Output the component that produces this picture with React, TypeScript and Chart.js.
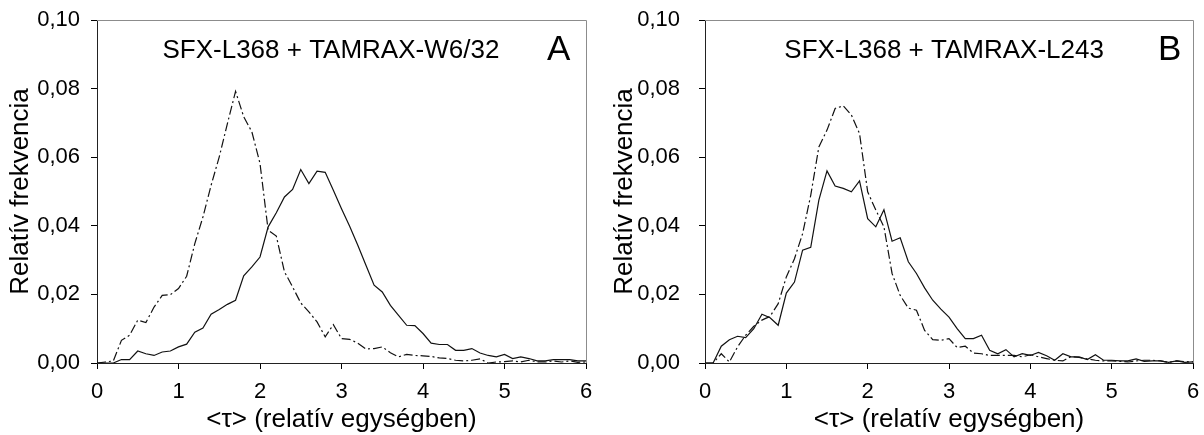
import React, { useEffect, useRef } from "react";
import { Chart, registerables } from "chart.js";

Chart.register(...registerables);

const FONT = '"Liberation Sans", Arial, Helvetica, sans-serif';

// x positions (<τ>, relative units)
const tau = [
  0, 0.1, 0.2, 0.3, 0.4, 0.5, 0.6, 0.7, 0.8, 0.9,
  1, 1.1, 1.2, 1.3, 1.4, 1.5, 1.6, 1.7, 1.8, 1.9,
  2, 2.1, 2.2, 2.3, 2.4, 2.5, 2.6, 2.7, 2.8, 2.9,
  3, 3.1, 3.2, 3.3, 3.4, 3.5, 3.6, 3.7, 3.8, 3.9,
  4, 4.1, 4.2, 4.3, 4.4, 4.5, 4.6, 4.7, 4.8, 4.9,
  5, 5.1, 5.2, 5.3, 5.4, 5.5, 5.6, 5.7, 5.8, 5.9,
  6,
];

// Panel A: SFX-L368 + TAMRAX-W6/32
const solidA = [
  0, 0, 0, 0.001, 0.001, 0.0035, 0.0027, 0.0022, 0.0032, 0.0035,
  0.0047, 0.0055, 0.009, 0.0102, 0.0142, 0.0156, 0.0171, 0.0183, 0.0254, 0.028,
  0.0309, 0.0397, 0.0438, 0.0484, 0.0506, 0.0564, 0.0523, 0.0559, 0.0556, 0.0504,
  0.045, 0.0399, 0.0343, 0.0285, 0.0227, 0.0207, 0.0168, 0.0139, 0.011, 0.0109,
  0.0086, 0.0058, 0.0054, 0.0054, 0.0037, 0.0037, 0.0042, 0.0029, 0.0022, 0.0018,
  0.0025, 0.0013, 0.0018, 0.0013, 0.0006, 0.0006, 0.001, 0.001, 0.001, 0.0006,
  0.0006,
];
const dashA = [
  0, 0.0003, 0.0006, 0.0066, 0.0081, 0.0125, 0.0118, 0.0163, 0.0197, 0.0199,
  0.0217, 0.0253, 0.0348, 0.0426, 0.0518, 0.0601, 0.0698, 0.0792, 0.0718, 0.0674,
  0.0582, 0.0387, 0.037, 0.0266, 0.0222, 0.0175, 0.0149, 0.012, 0.0076, 0.0112,
  0.0071, 0.0069, 0.0058, 0.0041, 0.0042, 0.0047, 0.003, 0.0018, 0.0025, 0.0022,
  0.0021, 0.0019, 0.0015, 0.0013, 0.0008, 0.0006, 0.0008, 0.0012, 0, 0.0003,
  0.0004, 0.0006, 0.0003, 0.0008, 0.0003, 0.0003, 0.0006, 0.0003, 0.0006, 0.0002,
  0.0003,
];

// Panel B: SFX-L368 + TAMRAX-L243
const solidB = [
  0, 0, 0.0049, 0.0068, 0.0078, 0.0074, 0.01, 0.0142, 0.0132, 0.011,
  0.0204, 0.0236, 0.0329, 0.0337, 0.0475, 0.056, 0.0516, 0.0509, 0.0499, 0.0531,
  0.0421, 0.0397, 0.0447, 0.0355, 0.0365, 0.0295, 0.0261, 0.0219, 0.0183, 0.0157,
  0.0134, 0.01, 0.0071, 0.0071, 0.0081, 0.0037, 0.0027, 0.0039, 0.0018, 0.0027,
  0.0022, 0.0031, 0.0021, 0.0008, 0.0027, 0.0018, 0.0018, 0.001, 0.0024, 0.0008,
  0.0008, 0.0006, 0.0006, 0.0012, 0.0005, 0.0006, 0.0006, 0.0002, 0.0006, 0.0002,
  0.0003,
];
const dashB = [
  0, 0, 0.0027, 0.0003, 0.0047, 0.0081, 0.0107, 0.0125, 0.0136, 0.0173,
  0.0251, 0.0304, 0.0377, 0.0489, 0.063, 0.0679, 0.0742, 0.075, 0.0723, 0.0669,
  0.0499, 0.0446, 0.0397, 0.0261, 0.0197, 0.016, 0.0154, 0.0095, 0.0068, 0.0066,
  0.0071, 0.0045, 0.0049, 0.0029, 0.0027, 0.0022, 0.0022, 0.0022, 0.0022, 0.0018,
  0.0024, 0.0018, 0.0013, 0.0008, 0.0006, 0.0019, 0.0016, 0.0012, 0.0008, 0.0006,
  0.0006, 0.0005, 0.0003, 0.0006, 0.0008, 0.0008, 0.0006, 0.0002, 0.0006, 0.0004,
  0.0003,
];

const yTicks = [0, 0.02, 0.04, 0.06, 0.08, 0.1];
const xTitle = "<τ> (relatív egységben)";
const yTitle = "Relatív frekvencia";

type PanelProps = {
  solid: number[];
  dash: number[];
  caption: string;
  letter: string;
  left: number;
  width: number;
  yAxisWidth: number;
  yTickPad: number;
  yTitlePad: number;
  rightPad: number;
  captionX: number;
  letterX: number;
};

function Panel(p: PanelProps) {
  const ref = useRef<HTMLCanvasElement | null>(null);

  useEffect(() => {
    const canvas = ref.current;
    if (!canvas) return;

    const framePlugin = {
      id: "frameAndText",
      afterDraw(chart: any) {
        const { ctx, chartArea, scales } = chart;
        const { left, right, top, bottom } = chartArea;
        ctx.save();
        ctx.strokeStyle = "#8c8c8c";
        ctx.lineWidth = 1;
        ctx.beginPath();
        ctx.moveTo(Math.round(left), Math.round(top) + 0.5);
        ctx.lineTo(Math.round(right) + 0.5, Math.round(top) + 0.5);
        ctx.lineTo(Math.round(right) + 0.5, Math.round(bottom));
        ctx.stroke();

        const xs = scales.x;
        const ys = scales.y;
        ctx.fillStyle = "#000";
        ctx.textBaseline = "alphabetic";
        ctx.font = `26px ${FONT}`;
        ctx.textAlign = "center";
        ctx.fillText(p.caption, xs.getPixelForValue(p.captionX), ys.getPixelForValue(0.0889));
        ctx.font = `35px ${FONT}`;
        ctx.textAlign = "left";
        ctx.fillText(p.letter, xs.getPixelForValue(p.letterX), ys.getPixelForValue(0.0883));
        ctx.restore();
      },
    };

    const chart = new Chart(canvas, {
      type: "line",
      data: {
        datasets: [
          {
            label: "solid",
            data: tau.map((t, i) => ({ x: t, y: p.solid[i] })),
            borderColor: "#111",
            borderWidth: 1.2,
            pointRadius: 0,
            tension: 0,
            fill: false,
          },
          {
            label: "dash-dot",
            data: tau.map((t, i) => ({ x: t, y: p.dash[i] })),
            borderColor: "#111",
            borderWidth: 1.2,
            borderDash: [9, 3, 2, 3],
            pointRadius: 0,
            tension: 0,
            fill: false,
          },
        ],
      },
      options: {
        animation: false,
        responsive: false,
        devicePixelRatio: 1,
        layout: { padding: { left: 0, right: p.rightPad, top: 20, bottom: 0 } },
        plugins: {
          legend: { display: false },
          tooltip: { enabled: false },
        },
        scales: {
          x: {
            type: "linear",
            min: 0,
            max: 6,
            ticks: {
              stepSize: 1,
              color: "#000",
              font: { family: FONT, size: 22 },
              padding: 10,
              maxRotation: 0,
              autoSkip: false,
            },
            grid: {
              drawOnChartArea: false,
              drawTicks: true,
              tickLength: 6,
              color: "#000",
            },
            border: { color: "#222", width: 1 },
            title: {
              display: true,
              text: xTitle,
              color: "#000",
              font: { family: FONT, size: 26 },
              padding: { top: 0, bottom: 0 },
            },
            afterFit: (s: any) => {
              s.height = 72;
              s.paddingLeft = 0;
              s.paddingRight = 0;
              s.paddingTop = 0;
              s.paddingBottom = 0;
            },
          },
          y: {
            type: "linear",
            min: 0,
            max: 0.1,
            afterBuildTicks: (s: any) => {
              s.ticks = yTicks.map((v) => ({ value: v }));
            },
            ticks: {
              color: "#000",
              font: { family: FONT, size: 22 },
              padding: p.yTickPad,
              callback: (v: any) => Number(v).toFixed(2).replace(".", ","),
            },
            grid: {
              drawOnChartArea: false,
              drawTicks: true,
              tickLength: 6,
              color: "#000",
            },
            border: { color: "#222", width: 1 },
            title: {
              display: true,
              text: yTitle,
              color: "#000",
              font: { family: FONT, size: 26 },
              padding: { top: p.yTitlePad, bottom: 0 },
            },
            afterFit: (s: any) => {
              s.width = p.yAxisWidth;
              s.paddingLeft = 0;
              s.paddingRight = 0;
              s.paddingTop = 0;
              s.paddingBottom = 0;
            },
          },
        },
      },
      plugins: [framePlugin],
    } as any);

    return () => chart.destroy();
  }, []);

  return (
    <canvas
      ref={ref}
      width={p.width}
      height={435}
      style={{ position: "absolute", left: p.left, top: 0, width: p.width, height: 435, display: "block" }}
    />
  );
}

export default function App() {
  return (
    <div style={{ position: "fixed", left: 0, top: 0, width: 1204, height: 435, background: "#fff" }}>
      <Panel
        solid={solidA}
        dash={dashA}
        caption="SFX-L368 + TAMRAX-W6/32"
        letter="A"
        left={0}
        width={600}
        yAxisWidth={97}
        yTickPad={11}
        yTitlePad={5}
        rightPad={14}
        captionX={2.87}
        letterX={5.52}
      />
      <Panel
        solid={solidB}
        dash={dashB}
        caption="SFX-L368 + TAMRAX-L243"
        letter="B"
        left={600}
        width={604}
        yAxisWidth={105}
        yTickPad={19}
        yTitlePad={9}
        rightPad={11}
        captionX={2.94}
        letterX={5.57}
      />
    </div>
  );
}
